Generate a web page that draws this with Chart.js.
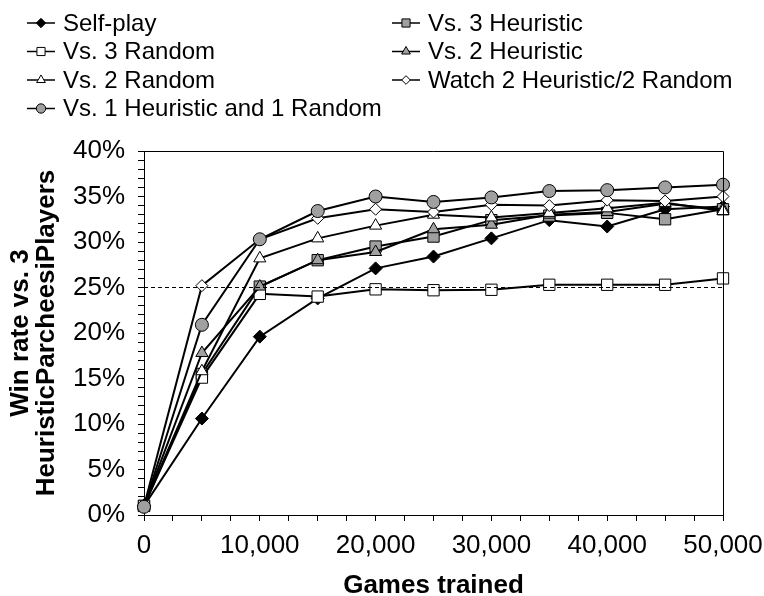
<!DOCTYPE html>
<html>
<head>
<meta charset="utf-8">
<script src="https://cdn.jsdelivr.net/npm/chart.js@4.4.1/dist/chart.umd.min.js"></script>
<style>
  html, body { margin: 0; padding: 0; background: #ffffff; }
  #wrap { width: 764px; height: 596px; }
</style>
</head>
<body>
<div id="wrap"><canvas id="c" width="764" height="596"></canvas></div>
<script>
// Games trained (x) and win rate in percent (y) for each training setup
const gamesTrained = [0, 5000, 10000, 15000, 20000, 25000, 30000, 35000, 40000, 45000, 50000];

const selfPlay        = [1.0, 10.6, 19.6, 23.8, 27.1, 28.4, 30.4, 32.4, 31.7, 33.6, 33.9];
const vs3Heuristic    = [1.0, 15.5, 25.1, 28.0, 29.5, 30.6, 32.4, 32.9, 33.2, 32.5, 33.6];
const vs3Random       = [1.0, 15.1, 24.3, 24.0, 24.8, 24.7, 24.75, 25.3, 25.3, 25.3, 26.0];
const vs2Heuristic    = [1.0, 17.8, 25.1, 28.0, 28.9, 31.4, 31.9, 33.0, 33.3, 34.2, 33.6];
const vs2Random       = [1.0, 15.8, 28.2, 30.4, 31.8, 33.0, 32.7, 33.2, 33.7, 34.3, 33.4];
const watch2H2R       = [1.0, 25.2, 30.3, 32.6, 33.6, 33.3, 34.1, 34.0, 34.6, 34.5, 35.0];
const vs1Heur1Random  = [0.9, 20.9, 30.3, 33.4, 35.0, 34.4, 34.9, 35.6, 35.7, 36.0, 36.3];

const seriesNames = [
  'Self-play', 'Vs. 3 Heuristic', 'Vs. 3 Random', 'Vs. 2 Heuristic',
  'Vs. 2 Random', 'Watch 2 Heuristic/2 Random', 'Vs. 1 Heuristic and 1 Random'
];
const seriesValues = [selfPlay, vs3Heuristic, vs3Random, vs2Heuristic, vs2Random, watch2H2R, vs1Heur1Random];

const baselineRate = 25;           // chance level for a 4-player game
const yTickMax = 40;
const xTickMax = 50000;

const GRAY = '#a0a0a0';
const FONT = '"Liberation Sans", Arial, Helvetica, sans-serif';

const markerStyles = [
  { pointStyle: 'rectRot',  fill: '#000000', radius: 6.5 },
  { pointStyle: 'rect',     fill: GRAY,      radius: 8 },
  { pointStyle: 'rect',     fill: '#ffffff', radius: 8 },
  { pointStyle: 'triangle', fill: GRAY,      radius: 7 },
  { pointStyle: 'triangle', fill: '#ffffff', radius: 7 },
  { pointStyle: 'rectRot',  fill: '#ffffff', radius: 6 },
  { pointStyle: 'circle',   fill: GRAY,      radius: 6.5 }
];

const toPoints = vals => vals.map((v, i) => ({ x: gamesTrained[i], y: v }));

const datasets = seriesValues.map((vals, i) => ({
  label: seriesNames[i],
  data: toPoints(vals),
  borderColor: '#000000',
  borderWidth: 2,
  backgroundColor: markerStyles[i].fill,
  pointStyle: markerStyles[i].pointStyle,
  pointRadius: markerStyles[i].radius,
  pointHoverRadius: markerStyles[i].radius,
  pointBackgroundColor: markerStyles[i].fill,
  pointBorderColor: '#000000',
  pointBorderWidth: 1,
  tension: 0,
  clip: false,
  order: seriesNames.length - i
}));

// dashed 25% reference line, drawn over the series
datasets.push({
  label: 'baseline',
  data: [{ x: 0, y: baselineRate }, { x: xTickMax, y: baselineRate }],
  borderColor: '#000000',
  borderWidth: 1,
  borderDash: [4, 3],
  pointRadius: 0,
  pointHoverRadius: 0,
  fill: false,
  order: 0
});

// plot frame (top and right edges) plus the two-column legend
const framePlugin = {
  id: 'frameAndLegend',
  afterDatasetsDraw(chart) {
    const { ctx, chartArea: a } = chart;
    ctx.save();
    ctx.strokeStyle = '#000000';
    ctx.lineWidth = 1;
    ctx.beginPath();
    ctx.moveTo(a.left, a.top + 0.5);
    ctx.lineTo(a.right + 0.5, a.top + 0.5);
    ctx.lineTo(a.right + 0.5, a.bottom);
    ctx.stroke();
    ctx.restore();
  },
  afterDraw(chart) {
    const ctx = chart.ctx;
    const colX = [27, 392];
    const rowY = [23, 51.5, 80, 108.5];
    ctx.save();
    ctx.font = '24px ' + FONT;
    ctx.textBaseline = 'middle';
    ctx.textAlign = 'left';
    seriesNames.forEach((name, i) => {
      const x = colX[i % 2];
      const y = rowY[Math.floor(i / 2)];
      ctx.strokeStyle = '#000000';
      ctx.lineWidth = 1.5;
      ctx.beginPath();
      ctx.moveTo(x, y);
      ctx.lineTo(x + 28, y);
      ctx.stroke();
      ctx.fillStyle = markerStyles[i].fill;
      ctx.strokeStyle = '#000000';
      ctx.lineWidth = 1;
      Chart.helpers.drawPoint(ctx, {
        pointStyle: markerStyles[i].pointStyle,
        radius: markerStyles[i].radius * 0.72,
        rotation: 0,
        borderWidth: 1
      }, x + 14, y);
      ctx.fillStyle = '#000000';
      ctx.fillText(name, x + 36, y + 1);
    });
    ctx.restore();
  }
};

new Chart(document.getElementById('c'), {
  type: 'line',
  data: { datasets },
  options: {
    responsive: false,
    animation: false,
    devicePixelRatio: 1,
    layout: { padding: { top: 151, right: 41, left: 0, bottom: 0 } },
    plugins: {
      legend: { display: false },
      tooltip: { enabled: false }
    },
    scales: {
      x: {
        type: 'linear',
        min: 0,
        max: xTickMax,
        afterFit: s => { s.height = 81; s.paddingLeft = 0; s.paddingRight = 0; },
        ticks: {
          stepSize: 2500,
          autoSkip: false,
          maxRotation: 0,
          color: '#000000',
          padding: 9,
          font: { family: FONT, size: 26 },
          callback: v => (v % 10000 === 0 ? v.toLocaleString('en-US') : '')
        },
        grid: { drawOnChartArea: false, drawTicks: true, tickLength: 6, color: '#000000' },
        border: { display: true, color: '#000000', width: 1 },
        title: {
          display: true,
          text: 'Games trained',
          color: '#000000',
          font: { family: FONT, size: 26, weight: 'bold', lineHeight: 0.8 },
          padding: { top: 0, bottom: 0 }
        }
      },
      y: {
        min: 0,
        max: yTickMax,
        afterFit: s => { s.width = 144; s.paddingTop = 0; s.paddingBottom = 0; },
        ticks: {
          stepSize: 1,
          autoSkip: false,
          color: '#000000',
          padding: 13,
          font: { family: FONT, size: 26 },
          callback: v => (v % 5 === 0 ? v + '%' : '')
        },
        grid: { drawOnChartArea: false, drawTicks: true, tickLength: 6, color: '#000000' },
        border: { display: true, color: '#000000', width: 1 },
        title: {
          display: true,
          text: ['Win rate vs. 3', 'HeuristicParcheesiPlayers'],
          color: '#000000',
          font: { family: FONT, size: 26, weight: 'bold', lineHeight: 1.0 },
          padding: { top: 8, bottom: 0 }
        }
      }
    }
  },
  plugins: [framePlugin]
});
</script>
</body>
</html>
